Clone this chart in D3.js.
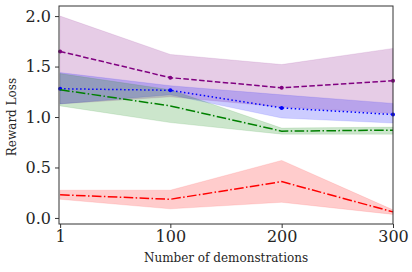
<!DOCTYPE html>
<html>
<head>
<meta charset="utf-8">
<script src="https://cdn.jsdelivr.net/npm/d3@7"></script>
<style>
  body { margin: 0; background: #fff; }
  svg { display: block; }
</style>
</head>
<body>
<div id="chart"></div>
<script>
// Chart data
const demos = [1, 100, 200, 300];
const xTicks = [1, 100, 200, 300];
const yTicks = [0.0, 0.5, 1.0, 1.5, 2.0];

const purpleMean  = [1.65, 1.39, 1.29, 1.36];
const purpleUpper = [2.00, 1.62, 1.52, 1.68];
const purpleLower = [1.13, 1.20, 1.10, 1.035];

const blueMean  = [1.28, 1.265, 1.09, 1.025];
const blueUpper = [1.44, 1.31, 1.22, 1.135];
const blueLower = [1.13, 1.22, 0.99, 0.94];

const greenMean  = [1.27, 1.11, 0.86, 0.87];
const greenUpper = [1.43, 1.27, 0.89, 0.90];
const greenLower = [1.11, 0.945, 0.83, 0.83];

const redMean  = [0.23, 0.185, 0.36, 0.06];
const redUpper = [0.275, 0.275, 0.57, 0.08];
const redLower = [0.185, 0.09, 0.155, 0.035];

const series = [
    {color: "purple", mean: purpleMean, upper: purpleUpper, lower: purpleLower, dash: "5.5,2.4", markers: true},
    {color: "blue",   mean: blueMean,   upper: blueUpper,   lower: blueLower,   dash: "1.5,2.5", markers: true},
    {color: "green",  mean: greenMean,  upper: greenUpper,  lower: greenLower,  dash: "9.6,2.4,1.5,2.4", markers: false},
    {color: "red",    mean: redMean,    upper: redUpper,    lower: redLower,    dash: "9.6,2.4,1.5,2.4", markers: false}
];

const WIDTH  = 412;
const HEIGHT = 272;
const margin = {top: 6, right: 19, bottom: 48, left: 59};

const svg = d3.select("#chart")
    .append("svg")
    .attr("width", WIDTH)
    .attr("height", HEIGHT);

const x = d3.scaleLinear()
    .domain([0, 300])
    .range([margin.left, WIDTH - margin.right]);

const y = d3.scaleLinear()
    .domain([-0.06, 2.1])
    .range([HEIGHT - margin.bottom, margin.top]);

// Bands first, then lines on top
series.forEach((s) => {
    const area = d3.area()
        .x((d, i) => x(demos[i]))
        .y0((d, i) => y(s.lower[i]))
        .y1((d, i) => y(s.upper[i]));

    svg.append("path")
        .datum(s.mean)
        .attr("d", area)
        .attr("fill", s.color)
        .attr("fill-opacity", 0.2)
        .attr("stroke", s.color)
        .attr("stroke-opacity", 0.1)
        .attr("stroke-width", 1);
});

series.forEach((s) => {
    const line = d3.line()
        .x((d, i) => x(demos[i]))
        .y((d) => y(d));

    svg.append("path")
        .datum(s.mean)
        .attr("d", line)
        .attr("fill", "none")
        .attr("stroke", s.color)
        .attr("stroke-width", 1.5)
        .attr("stroke-dasharray", s.dash);

    if (s.markers) {
        svg.selectAll(null)
            .data(s.mean)
            .enter()
            .append("circle")
            .attr("cx", (d, i) => x(demos[i]))
            .attr("cy", (d) => y(d))
            .attr("r", 2)
            .attr("fill", s.color);
    }
});

// Axes
const xAxis = svg.append("g")
    .attr("transform", "translate(0," + (HEIGHT - margin.bottom) + ")")
    .call(d3.axisBottom(x).tickValues(xTicks).tickSize(4).tickPadding(3).tickFormat(d3.format("d")));

const yAxis = svg.append("g")
    .attr("transform", "translate(" + margin.left + ",0)")
    .call(d3.axisLeft(y).tickValues(yTicks).tickSize(4).tickPadding(4).tickFormat(d3.format(".1f")));

[xAxis, yAxis].forEach((g) => {
    g.select(".domain").remove();
    g.selectAll(".tick line").attr("stroke", "#333").attr("stroke-width", 1);
    g.selectAll(".tick text")
        .attr("fill", "#262626")
        .style("font-family", "'DejaVu Serif', serif")
        .style("font-size", "16px");
});

// Frame
svg.append("rect")
    .attr("x", margin.left)
    .attr("y", margin.top)
    .attr("width", WIDTH - margin.left - margin.right)
    .attr("height", HEIGHT - margin.top - margin.bottom)
    .attr("fill", "none")
    .attr("stroke", "#333")
    .attr("stroke-width", 1);

// Labels
svg.append("text")
    .attr("x", (margin.left + WIDTH - margin.right) / 2)
    .attr("y", 262)
    .attr("text-anchor", "middle")
    .attr("fill", "#262626")
    .style("font-family", "'DejaVu Serif', serif")
    .style("font-size", "12px")
    .text("Number of demonstrations");

svg.append("text")
    .attr("transform", "translate(16," + y(1.0) + ") rotate(-90)")
    .attr("text-anchor", "middle")
    .attr("fill", "#262626")
    .style("font-family", "'DejaVu Serif', serif")
    .style("font-size", "12px")
    .text("Reward Loss");
</script>
</body>
</html>
